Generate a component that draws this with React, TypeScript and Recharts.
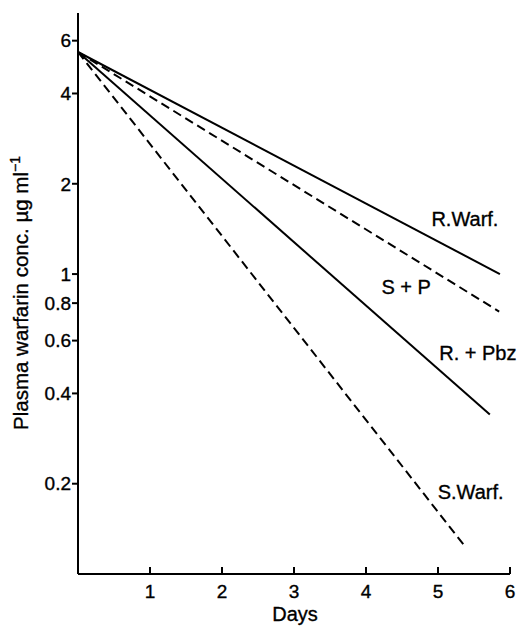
import { LineChart, Line, XAxis, YAxis, LabelList } from 'recharts';

// Days / concentration (µg/ml) at start and end of each fitted line
const rWarfDays = [0, 5.86];
const rWarfConc = [5.5, 1.0];
const spDays = [0, 5.85];
const spConc = [5.5, 0.75];
const rPbzDays = [0, 5.72];
const rPbzConc = [5.5, 0.34];
const sWarfDays = [0, 5.37];
const sWarfConc = [5.5, 0.124];

const dayTicks = [1, 2, 3, 4, 5, 6];
const concTicks = [0.2, 0.4, 0.6, 0.8, 1, 2, 4, 6];

const FONT = '"Liberation Sans", Arial, Helvetica, sans-serif';
// slight outline so the text reads as heavy as the printed original
const INK = { fill: '#000', stroke: '#000', strokeWidth: 0.35 };

const toPoints = (days: number[], conc: number[]) =>
  days.map((d, i) => ({ day: d, conc: conc[i] }));

const endLabel = (text: string, dx: number, dy: number) => (props: any) => {
  const { x, y, index } = props;
  if (index !== 1) return null;
  return (
    <text x={x + dx} y={y + dy} textAnchor="middle" fontSize={20} fontFamily={FONT} {...INK}>
      {text}
    </text>
  );
};

const DayTick = (props: any) => {
  const { x, y, payload } = props;
  return (
    <g>
      <line x1={x} x2={x} y1={y} y2={y - 7} stroke="#000" strokeWidth={2} />
      <text x={x} y={y + 24} textAnchor="middle" fontSize={19} fontFamily={FONT} {...INK}>
        {payload.value}
      </text>
    </g>
  );
};

const YTitle = () => (
  <text
    x={28}
    y={293}
    transform="rotate(-90, 28, 293)"
    textAnchor="middle"
    fontSize={20.5}
    fontFamily={FONT}
    {...INK}
  >
    <tspan>Plasma warfarin conc. µg ml</tspan>
    <tspan dy={-8} fontSize={14}>−1</tspan>
  </text>
);

const DaysTitle = () => (
  <text x={295} y={621} textAnchor="middle" fontSize={20} fontFamily={FONT} {...INK}>
    Days
  </text>
);

export default function App() {
  return (
    <div style={{ position: 'absolute', left: 0, top: 0, background: '#fff' }}>
      <LineChart width={518} height={628} margin={{ top: 13, right: 8, left: 0, bottom: 0 }}>
        <XAxis
          type="number"
          dataKey="day"
          domain={[0, 6]}
          ticks={dayTicks}
          height={54}
          tickSize={0}
          tickMargin={0}
          tickLine={false}
          tick={<DayTick />}
          axisLine={{ stroke: '#000', strokeWidth: 2 }}
          label={{ content: () => <DaysTitle /> }}
        />
        <YAxis
          type="number"
          dataKey="conc"
          scale="log"
          domain={[0.1, 7.42]}
          allowDataOverflow
          ticks={concTicks}
          width={78}
          tickSize={6}
          tickMargin={1}
          tick={{ fontSize: 19, fontFamily: FONT, ...INK }}
          tickLine={{ stroke: '#000', strokeWidth: 2 }}
          axisLine={{ stroke: '#000', strokeWidth: 2 }}
          label={{ content: () => <YTitle /> }}
        />
        <Line data={toPoints(rWarfDays, rWarfConc)} dataKey="conc" type="linear" stroke="#000" strokeWidth={2} dot={false} isAnimationActive={false}>
          <LabelList dataKey="conc" content={endLabel('R.Warf.', -35, -48)} />
        </Line>
        <Line data={toPoints(spDays, spConc)} dataKey="conc" type="linear" stroke="#000" strokeWidth={2} strokeDasharray="9 5" dot={false} isAnimationActive={false}>
          <LabelList dataKey="conc" content={endLabel('S + P', -93, -18)} />
        </Line>
        <Line data={toPoints(rPbzDays, rPbzConc)} dataKey="conc" type="linear" stroke="#000" strokeWidth={2} dot={false} isAnimationActive={false}>
          <LabelList dataKey="conc" content={endLabel('R. + Pbz', -12, -55)} />
        </Line>
        <Line data={toPoints(sWarfDays, sWarfConc)} dataKey="conc" type="linear" stroke="#000" strokeWidth={2} strokeDasharray="9 5" dot={false} isAnimationActive={false}>
          <LabelList dataKey="conc" content={endLabel('S.Warf.', 6, -47)} />
        </Line>
      </LineChart>
    </div>
  );
}
